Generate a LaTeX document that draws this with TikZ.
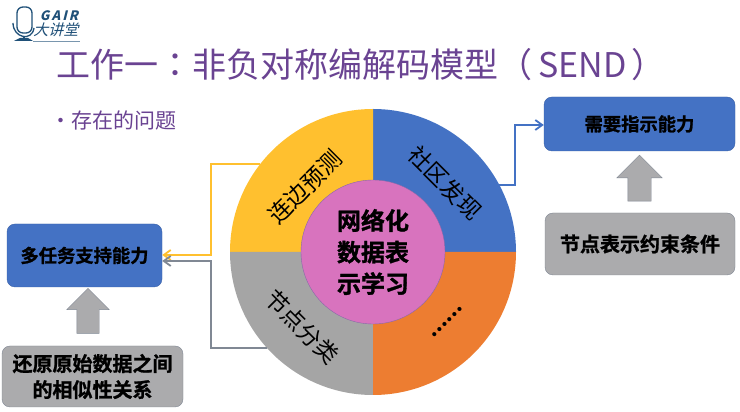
\documentclass[tikz,border=0pt]{standalone}
\usepackage{xcolor}
\usepackage{fontspec}
\setmainfont{Noto Sans CJK SC}
\newfontfamily\logofont[FakeSlant=0.25]{Noto Sans CJK SC}
\newfontfamily\tcfont{Noto Sans CJK TC}
\newfontfamily\heavyfont[FakeBold=1.2]{Noto Sans CJK SC Bold}
\usetikzlibrary{arrows.meta,shapes.arrows}
\definecolor{wedgeblue}{HTML}{4472C4}
\definecolor{wedgeyellow}{HTML}{FFC02F}
\definecolor{wedgegray}{HTML}{A5A5A5}
\definecolor{wedgeorange}{HTML}{ED7D31}
\definecolor{hubpink}{HTML}{D873BE}
\definecolor{titlepurple}{HTML}{6A4392}
\definecolor{logoblue}{HTML}{1F5078}
\definecolor{edgegray}{HTML}{808894}
\definecolor{boxgray}{HTML}{ABABAD}

\begin{document}
\begin{tikzpicture}[
    x=1pt, y=1pt,
    task/.style={draw=wedgeblue!85!black, fill=wedgeblue, rounded corners=8pt, align=center, inner sep=0pt, font=\heavyfont\fontsize{18.3}{22}\selectfont},
    cond/.style={draw=edgegray, fill=boxgray, rounded corners=8pt, align=center, inner sep=0pt, font=\heavyfont\fontsize{20}{26}\selectfont},
    up/.style={draw=edgegray, fill=boxgray, single arrow, shape border rotate=90, single arrow tip angle=90},
    sector/.style={font=\fontsize{23}{26}\selectfont, inner sep=0pt},
    arr/.style={-{Straight Barb[length=7pt,width=10pt]}, line width=1.8pt}
  ]
    \useasboundingbox (0,0) rectangle (740,412);
    \fill[white] (0,0) rectangle (740,412);

    \draw[logoblue, line width=1.3pt, rounded corners=6pt] (17,379) rectangle (32,405);
    \draw[logoblue, line width=1.3pt] (13,389) .. controls (13,374) and (32,370) .. (34,384);
    \draw[logoblue, line width=1.5pt] (24,376) -- (24,372);
    \fill[logoblue] (14,371) -- (20,374) -- (28,374) -- (33,371) -- cycle;
    \draw[logoblue!60, line width=0.8pt] (33,371) -- (80,371);
    \node[inner sep=0pt, text=logoblue, font=\logofont\fontsize{13}{13}\selectfont\bfseries] (gair) at (59,396) {G\,A\,I\,R};
    \node[inner sep=0pt, text=logoblue, font=\logofont\fontsize{15}{15}\selectfont] (jiangtang) at (56,382) {大讲堂};

    \node[anchor=west, inner sep=0pt, text=titlepurple, font=\fontsize{34}{34}\selectfont] (title) at (56,347) {工作一{\tcfont ：}非负对称编解码模型{\tcfont （}\hspace{6pt}SEND\hspace{5pt}{\tcfont ）}};
    \node[anchor=west, inner sep=0pt, text=titlepurple, font=\fontsize{21}{21}\selectfont] (issue) at (50,292) {•存在的问题};

    \node[circle, minimum size=286pt, inner sep=0pt] (ring) at (373,160) {};
    \foreach \start/\col in {0/wedgeblue, 90/wedgeyellow, 180/wedgegray, 270/wedgeorange}
      \fill[\col] (ring.center) -- ++(\start:143) arc[start angle=\start, delta angle=90, radius=143] -- cycle;
    \node[circle, draw=titlepurple!80, fill=hubpink, minimum size=144pt, inner sep=0pt, align=center, font=\heavyfont\fontsize{24}{31.5}\selectfont] (hub) at (ring.center) {网络化\\数据表\\示学习};

    \node[sector, rotate=45] (linkpred) at (305,225) {连边预测};
    \node[sector, rotate=-45] (community) at (445,229) {社区发现};
    \node[sector, rotate=-45] (nodecls) at (302,85) {节点分类};
    \node[sector, rotate=45, font=\fontsize{19}{19}\selectfont\bfseries] (more) at (447,90) {……};

    \node[task, minimum width=155pt, minimum height=63pt] (multi) at (84.5,156.5) {多任务支持能力};
    \node[cond, minimum width=181pt, minimum height=61pt] (restore) at (92.5,35.5) {还原原始数据之间\\的相似性关系};
    \node[task, minimum width=191pt, minimum height=54pt] (indicate) at (639.5,288) {需要指示能力};
    \node[cond, minimum width=190pt, minimum height=62pt] (constraint) at (640,168) {节点表示约束条件};

    \node[up, inner sep=11pt, minimum height=45pt, single arrow head extend=10pt] (uleft) at (88,95.5) {};
    \node[up, inner sep=11.5pt, minimum height=46pt, single arrow head extend=11pt] (uright) at (639.5,228) {};

    \coordinate (ybend) at (211,157);
    \coordinate (gbend) at (211,151);
    \coordinate (bbend) at (515,287);
    \draw[arr, wedgeyellow] (ring.142) -| (ybend) -- (multi.east |- ybend);
    \draw[arr, edgegray] (ring.222) -| (gbend) -- (multi.east |- gbend);
    \draw[arr, wedgeblue] (ring.28) -| (bbend) -- (indicate.west |- bbend);
  \end{tikzpicture}
\end{document}
